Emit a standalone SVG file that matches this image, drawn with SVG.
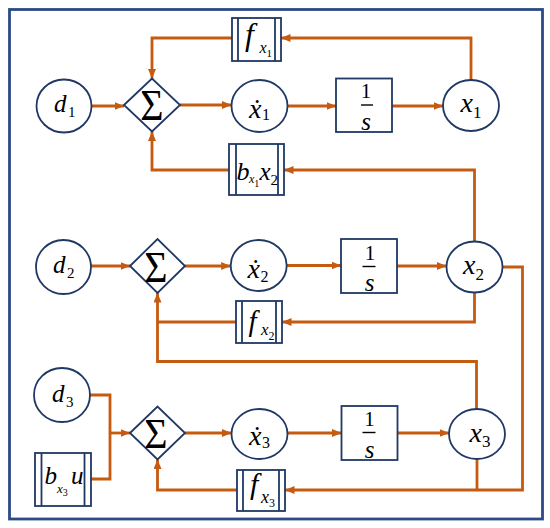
<svg xmlns="http://www.w3.org/2000/svg" width="550" height="528" viewBox="0 0 550 528">
<style>
.nd{fill:#fff;stroke:#1F3864;stroke-width:1.8}
.bar{fill:none;stroke:#1F3864;stroke-width:1.8}
.fr{fill:#fff;stroke:#2B4A86;stroke-width:2.8}
.cn{fill:none;stroke:#C55A11;stroke-width:2.8}
.ar{marker-end:url(#ah)}
.t{font-family:"Liberation Serif","DejaVu Serif",serif;fill:#000}
.m{font-style:italic}
.u{font-style:normal}
.fl{stroke:#000;stroke-width:1.4}
</style>
<defs>
<marker id="ah" markerUnits="userSpaceOnUse" markerWidth="10" markerHeight="8" refX="9.5" refY="4" orient="auto">
<path d="M0,0 L9.5,4 L0,8 z" fill="#C55A11"/>
</marker>
</defs>
<rect class="fr" x="9.5" y="9.5" width="533" height="509.5"/>

<g id="connectors">
<path class="cn ar" d="M91.5,106 H124"/>
<path class="cn ar" d="M180,105 H231.5"/>
<path class="cn ar" d="M287.5,106 H336"/>
<path class="cn ar" d="M392,106 H443"/>
<path class="cn ar" d="M471,80 V38 H281"/>
<path class="cn ar" d="M232,38 H152 V78.5"/>
<path class="cn ar" d="M474.5,241.5 V170 H284"/>
<path class="cn ar" d="M229,170 H152 V131.5"/>
<path class="cn ar" d="M91,266 H130"/>
<path class="cn ar" d="M185,266 H230.7"/>
<path class="cn ar" d="M286.7,265.5 H341"/>
<path class="cn ar" d="M397,266 H446.5"/>
<path class="cn ar" d="M474.5,292.5 V322 H282"/>
<path class="cn" d="M236,322 H157.5"/>
<path class="cn ar" d="M476.5,409 V361.5 H157.5 V293"/>
<path class="cn ar" d="M502.5,267 H522.5 V490 H285"/>
<path class="cn" d="M477,459 V490"/>
<path class="cn" d="M90,395 H110 V479 H91"/>
<path class="cn ar" d="M110,433 H130"/>
<path class="cn ar" d="M185,433 H231.5"/>
<path class="cn ar" d="M287.5,433 H341.5"/>
<path class="cn ar" d="M397.5,433 H449"/>
<path class="cn ar" d="M237,490 H157.5 V459.5"/>
</g>

<g id="d1">
<ellipse class="nd" cx="64" cy="106" rx="27.5" ry="26.5"/>
<text class="t" font-size="25"><tspan class="m" x="54" y="111.5">d</tspan><tspan class="u" font-size="15" dx="1.5" y="117">1</tspan></text>
</g>
<g id="sum1">
<polygon class="nd" points="124,105 152,78.5 180,105 152,131.5"/>
<text class="t" font-size="40" text-anchor="middle" transform="translate(152,120) scale(1,1.12)" x="0" y="0">Σ</text>
</g>
<g id="x1dot">
<ellipse class="nd" cx="259.5" cy="106" rx="28" ry="26"/>
<text class="t" font-size="28"><tspan class="m" x="249" y="118">ẋ</tspan><tspan class="u" font-size="16" dx="0.5" y="120">1</tspan></text>
</g>
<g id="int1">
<rect class="nd" x="336" y="78.5" width="56" height="53.5"/>
<text class="t" font-size="21" text-anchor="middle" x="366" y="98">1</text>
<line class="fl" x1="361" y1="105" x2="373" y2="105"/>
<text class="t m" font-size="25" text-anchor="middle" x="366" y="130">s</text>
</g>
<g id="x1">
<ellipse class="nd" cx="471" cy="105.5" rx="28" ry="25.5"/>
<text class="t" font-size="28"><tspan class="m" x="460.5" y="111.5">x</tspan><tspan class="u" font-size="17" dx="0" y="118">1</tspan></text>
</g>
<g id="fx1">
<rect class="nd" x="232" y="18" width="49" height="43"/>
<line class="bar" x1="238" y1="18" x2="238" y2="61"/>
<line class="bar" x1="275" y1="18" x2="275" y2="61"/>
<text class="t m"><tspan font-size="32" x="245" y="45">f</tspan><tspan font-size="16" x="259.5" y="52.5">x</tspan><tspan class="u" font-size="11" dx="0" y="56.5">1</tspan></text>
</g>
<g id="bx1x2">
<rect class="nd" x="229" y="144" width="55" height="51"/>
<line class="bar" x1="236" y1="144" x2="236" y2="195"/>
<line class="bar" x1="278" y1="144" x2="278" y2="195"/>
<text class="t m"><tspan font-size="26" x="236.5" y="180">b</tspan><tspan font-size="12" x="249" y="183">x</tspan><tspan class="u" font-size="10" dx="0" y="186.5">1</tspan><tspan font-size="25" x="259.5" y="180">x</tspan><tspan class="u" font-size="15" dx="0" y="185">2</tspan></text>
</g>

<g id="d2">
<ellipse class="nd" cx="63.5" cy="267" rx="27.5" ry="27"/>
<text class="t" font-size="25"><tspan class="m" x="53" y="272.5">d</tspan><tspan class="u" font-size="15" dx="1.5" y="278">2</tspan></text>
</g>
<g id="sum2">
<polygon class="nd" points="130,266 157.5,239 185,266 157.5,293"/>
<text class="t" font-size="40" text-anchor="middle" transform="translate(156,281.5) scale(1,1.1)" x="0" y="0">Σ</text>
</g>
<g id="x2dot">
<ellipse class="nd" cx="258.7" cy="265.5" rx="28" ry="25.5"/>
<text class="t" font-size="28"><tspan class="m" x="247.5" y="278">ẋ</tspan><tspan class="u" font-size="16" dx="0.5" y="281.5">2</tspan></text>
</g>
<g id="int2">
<rect class="nd" x="341" y="239" width="56" height="54"/>
<text class="t" font-size="21" text-anchor="middle" x="370" y="259.5">1</text>
<line class="fl" x1="362.5" y1="266.5" x2="375.5" y2="266.5"/>
<text class="t m" font-size="25" text-anchor="middle" x="369.5" y="290.5">s</text>
</g>
<g id="x2">
<ellipse class="nd" cx="474.5" cy="267" rx="28" ry="25.5"/>
<text class="t" font-size="28"><tspan class="m" x="463" y="274">x</tspan><tspan class="u" font-size="17" dx="0" y="280">2</tspan></text>
</g>
<g id="fx2">
<rect class="nd" x="236" y="301" width="46" height="42"/>
<line class="bar" x1="242" y1="301" x2="242" y2="343"/>
<line class="bar" x1="276" y1="301" x2="276" y2="343"/>
<text class="t m"><tspan font-size="29" x="248.5" y="330.5">f</tspan><tspan font-size="17" x="261" y="335">x</tspan><tspan class="u" font-size="12" dx="0" y="340">2</tspan></text>
</g>

<g id="d3">
<ellipse class="nd" cx="62" cy="395" rx="28" ry="27"/>
<text class="t" font-size="25"><tspan class="m" x="52" y="401.5">d</tspan><tspan class="u" font-size="15" dx="1.5" y="407">3</tspan></text>
</g>
<g id="bx3u">
<rect class="nd" x="35" y="453" width="56" height="53"/>
<line class="bar" x1="41.5" y1="453" x2="41.5" y2="506"/>
<line class="bar" x1="84.5" y1="453" x2="84.5" y2="506"/>
<text class="t m"><tspan font-size="25" x="44.5" y="483.5">b</tspan><tspan font-size="13" x="57" y="492.5">x</tspan><tspan class="u" font-size="10" dx="0" y="496">3</tspan><tspan font-size="25" x="71" y="484">u</tspan></text>
</g>
<g id="sum3">
<polygon class="nd" points="130,433 157.5,406.5 185,433 157.5,459.5"/>
<text class="t" font-size="40" text-anchor="middle" transform="translate(156,448) scale(1,1.08)" x="0" y="0">Σ</text>
</g>
<g id="x3dot">
<ellipse class="nd" cx="259.5" cy="434" rx="28" ry="25"/>
<text class="t" font-size="28"><tspan class="m" x="249" y="445">ẋ</tspan><tspan class="u" font-size="16" dx="0.5" y="448">3</tspan></text>
</g>
<g id="int3">
<rect class="nd" x="341.5" y="406" width="56" height="54"/>
<text class="t" font-size="21" text-anchor="middle" x="369.5" y="425.5">1</text>
<line class="fl" x1="362.5" y1="432.5" x2="375.5" y2="432.5"/>
<text class="t m" font-size="25" text-anchor="middle" x="369.5" y="458">s</text>
</g>
<g id="x3">
<ellipse class="nd" cx="477" cy="434" rx="28" ry="25"/>
<text class="t" font-size="28"><tspan class="m" x="469.5" y="441.5">x</tspan><tspan class="u" font-size="17" dx="0" y="447">3</tspan></text>
</g>
<g id="fx3">
<rect class="nd" x="237" y="470" width="48" height="41"/>
<line class="bar" x1="243" y1="470" x2="243" y2="511"/>
<line class="bar" x1="279" y1="470" x2="279" y2="511"/>
<text class="t m"><tspan font-size="30" x="250" y="494">f</tspan><tspan font-size="18" x="261" y="503">x</tspan><tspan class="u" font-size="12" dx="0" y="506.5">3</tspan></text>
</g>
</svg>
